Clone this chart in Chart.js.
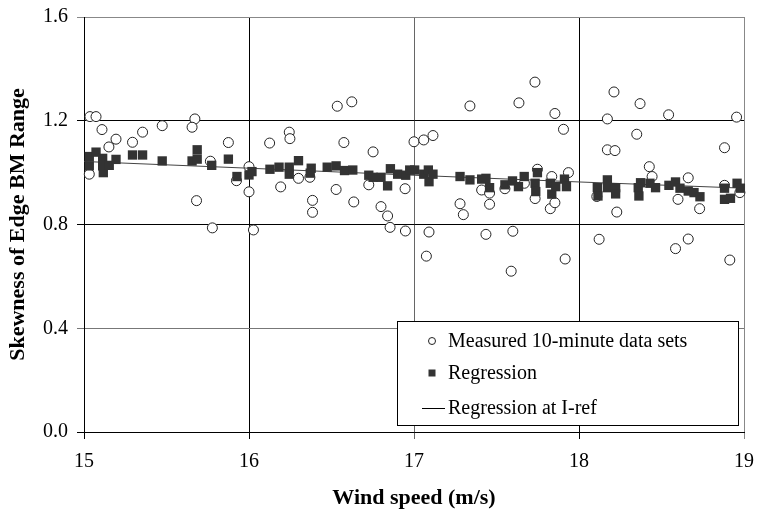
<!DOCTYPE html>
<html lang="en">
  <head>
    <meta charset="utf-8">
    <title>Skewness of Edge BM Range vs Wind speed</title>
    <style>
      html, body { margin: 0; padding: 0; background: #fff; }
      #wrapper { width: 757px; height: 510px; }
      canvas { display: block; }
    </style>
  </head>
  <body>
    <div id="wrapper">
      <canvas id="canvas" width="757" height="510"></canvas>
    </div>

    <script src="https://cdn.jsdelivr.net/npm/chart.js"></script>
    <script>
      // measured 10-minute data sets (open circles)
      let measuredX = [15.036, 15.073, 15.109, 15.194, 15.151, 15.294, 15.355, 15.474, 15.672, 15.655,
        15.875, 15.032, 15.682, 15.766, 15.924, 16.0, 16.0, 15.778, 16.027,
        16.125, 16.192, 16.244, 16.248, 16.30, 16.369, 16.385, 16.385, 16.535, 16.623,
        16.575, 16.528, 16.635, 16.752, 16.726, 16.80, 16.84, 16.855, 16.946, 16.948, 17.0,
        17.059, 17.115, 17.339, 17.636, 17.733, 17.854, 17.906, 17.091, 17.075, 17.279,
        17.299, 17.41, 17.458, 17.458, 17.436, 17.551, 17.589, 17.599, 17.669, 17.734,
        17.748, 17.826, 17.854, 17.835, 17.936, 17.916,
        18.212, 18.37, 18.543, 18.172, 18.955, 18.35, 18.172, 18.218, 18.882, 18.426,
        18.443, 18.662, 18.108, 18.229, 18.60, 18.731, 18.882, 18.975, 18.122, 18.662,
        18.585, 18.914];
      let measuredY = [1.216, 1.216, 1.166, 1.129, 1.099, 1.117, 1.156, 1.181, 1.207, 1.175,
        1.116, 0.994, 0.892, 1.044, 0.969, 1.023, 0.926, 0.787, 0.779,
        1.114, 0.945, 1.156, 1.131, 0.978, 0.982, 0.893, 0.847, 1.256, 1.273,
        1.116, 0.935, 0.887, 1.080, 0.953, 0.869, 0.833, 0.789, 0.938, 0.775, 1.119,
        1.126, 1.143, 1.257, 1.269, 1.349, 1.228, 1.167, 0.771, 0.678, 0.880,
        0.838, 0.933, 0.921, 0.878, 0.762, 0.938, 0.620, 0.774, 0.959, 0.900,
        1.013, 0.861, 0.884, 0.985, 1.000, 0.667,
        1.311, 1.266, 1.223, 1.207, 1.214, 1.148, 1.088, 1.085, 1.096, 1.023,
        0.985, 0.980, 0.908, 0.848, 0.897, 0.861, 0.951, 0.923, 0.743, 0.744,
        0.707, 0.663];

      // regression (filled squares)
      let regressionX = [15.032, 15.032, 15.073, 15.113, 15.113, 15.117, 15.153, 15.194, 15.294, 15.355,
        15.474, 15.655, 15.686, 15.686, 15.774, 15.875, 15.927, 16.0, 16.018,
        16.127, 16.182, 16.244, 16.244, 16.30, 16.377, 16.371, 16.474, 16.528, 16.579,
        16.629, 16.726, 16.752, 16.80, 16.84, 16.857, 16.901, 16.95, 16.974,
        17.004, 17.059, 17.087, 17.091, 17.115, 17.279, 17.339, 17.41, 17.436, 17.458,
        17.551, 17.597, 17.633, 17.668, 17.734, 17.738, 17.748, 17.826, 17.835, 17.859,
        17.912, 17.924,
        18.111, 18.115, 18.172, 18.172, 18.222, 18.222, 18.359, 18.363, 18.373, 18.43,
        18.464, 18.545, 18.585, 18.612, 18.662, 18.697, 18.733, 18.882, 18.882, 18.918,
        18.958, 18.978];
      let regressionY = [1.062, 1.026, 1.079, 1.055, 1.026, 1.000, 1.028, 1.051, 1.068, 1.068,
        1.045, 1.045, 1.088, 1.052, 1.028, 1.052, 0.985, 0.991, 1.004,
        1.013, 1.021, 1.021, 0.994, 1.046, 1.017, 0.998, 1.021, 1.026, 1.008,
        1.010, 0.990, 0.982, 0.982, 0.949, 1.015, 0.994, 0.990, 1.010,
        1.010, 0.994, 1.010, 0.965, 0.994, 0.985, 0.972, 0.975, 0.978, 0.942,
        0.953, 0.968, 0.946, 0.985, 0.959, 0.927, 1.000, 0.959, 0.917, 0.946,
        0.975, 0.946,
        0.942, 0.910, 0.972, 0.942, 0.942, 0.918, 0.942, 0.910, 0.961, 0.959,
        0.942, 0.951, 0.964, 0.940, 0.929, 0.923, 0.907, 0.940, 0.897, 0.901,
        0.959, 0.940];

      // regression at I-ref (thin line)
      let refX = [15, 16, 17, 18, 19];
      let refY = [1.043, 1.017, 0.990, 0.964, 0.940];

      let xTicks = [15, 16, 17, 18, 19];
      let yTicks = [0.0, 0.4, 0.8, 1.2, 1.6];

      let legendLabels = ['Measured 10-minute data sets', 'Regression', 'Regression at I-ref'];

      const serif = "'Liberation Serif', 'Times New Roman', serif";

      function pairs(xs, ys) {
        let out = [];
        for (let i = 0; i < xs.length; i++) out.push({x: xs[i], y: ys[i]});
        return out;
      }

      // grid shades picked to match the reference
      function xGridColor(ctx) {
        let v = ctx.tick ? ctx.tick.value : 0;
        if (v === 17) return '#666';
        if (v === 19) return '#888';
        return '#000';
      }
      function yGridColor(ctx) {
        let v = ctx.tick ? Math.round(ctx.tick.value * 10) / 10 : 0;
        if (v === 0.4) return '#777';
        if (v === 1.6) return '#888';
        return '#000';
      }

      // legend box drawn inside the plot area
      const boxLegend = {
        id: 'boxLegend',
        afterDraw(chart) {
          const ctx = chart.ctx;
          const a = chart.chartArea;
          const x0 = a.right - 347, y0 = a.bottom - 111, w = 341, h = 104;
          ctx.save();
          ctx.fillStyle = '#fff';
          ctx.fillRect(x0, y0, w, h);
          ctx.strokeStyle = '#000';
          ctx.lineWidth = 1;
          ctx.strokeRect(x0 + 0.5, y0 + 0.5, w, h);

          const mx = x0 + 35, tx = x0 + 51;
          const rows = [y0 + 20, y0 + 52, y0 + 87];

          ctx.beginPath();
          ctx.arc(mx, rows[0], 3.5, 0, Math.PI * 2);
          ctx.fillStyle = '#fff';
          ctx.fill();
          ctx.strokeStyle = '#222';
          ctx.stroke();

          ctx.fillStyle = '#333';
          ctx.fillRect(mx - 3.5, rows[1] - 3.5, 7, 7);

          ctx.beginPath();
          ctx.moveTo(mx - 10, rows[2] + 0.5);
          ctx.lineTo(mx + 13, rows[2] + 0.5);
          ctx.strokeStyle = '#000';
          ctx.stroke();

          ctx.fillStyle = '#000';
          ctx.font = '20px ' + serif;
          ctx.textBaseline = 'middle';
          ctx.textAlign = 'left';
          for (let i = 0; i < legendLabels.length; i++) {
            ctx.fillText(legendLabels[i], tx, rows[i] + 1);
          }
          ctx.restore();
        }
      };

      let options = {
        type: 'scatter',
        data: {
          datasets: [{
            label: legendLabels[1],
            data: pairs(regressionX, regressionY),
            pointStyle: 'rect',
            pointRadius: 6.6,
            backgroundColor: '#333',
            borderColor: '#333',
            borderWidth: 0,
            clip: false,
            order: 0
          }, {
            type: 'line',
            label: legendLabels[2],
            data: pairs(refX, refY),
            borderColor: '#444',
            borderWidth: 1,
            pointRadius: 0,
            fill: false,
            tension: 0,
            order: 1
          }, {
            label: legendLabels[0],
            data: pairs(measuredX, measuredY),
            pointStyle: 'circle',
            pointRadius: 5,
            backgroundColor: '#fff',
            borderColor: '#222',
            borderWidth: 1,
            clip: false,
            order: 2
          }]
        },
        options: {
          responsive: false,
          animation: false,
          layout: { padding: { top: 17, right: 13, left: 0, bottom: 0 } },
          plugins: {
            legend: { display: false },
            tooltip: { enabled: false }
          },
          scales: {
            x: {
              type: 'linear',
              min: 15,
              max: 19,
              afterFit: s => {
                s.height = 78;
                s.paddingLeft = 0;
                s.paddingRight = 0;
              },
              afterBuildTicks: s => { s.ticks = xTicks.map(v => ({value: v})); },
              ticks: {
                padding: 11,
                color: '#000',
                font: { family: serif, size: 20 },
                callback: v => String(v)
              },
              grid: { color: xGridColor, lineWidth: 1, tickLength: 7 },
              border: { display: true, color: '#000', width: 1 },
              title: {
                display: true,
                text: 'Wind speed (m/s)',
                color: '#000',
                font: { family: serif, size: 22, weight: 'bold', lineHeight: 1 },
                padding: { top: 0, bottom: 1 }
              }
            },
            y: {
              type: 'linear',
              min: 0,
              max: 1.6,
              afterFit: s => {
                s.width = 84;
                s.paddingTop = 0;
                s.paddingBottom = 0;
              },
              afterBuildTicks: s => { s.ticks = yTicks.map(v => ({value: v})); },
              ticks: {
                padding: 9,
                color: '#000',
                font: { family: serif, size: 20 },
                callback: v => Number(v).toFixed(1)
              },
              grid: { color: yGridColor, lineWidth: 1, tickLength: 7 },
              border: { display: true, color: '#000', width: 1 },
              title: {
                display: true,
                text: 'Skewness of Edge BM Range',
                color: '#000',
                font: { family: serif, size: 22, weight: 'bold', lineHeight: 1 },
                padding: { top: 7, bottom: 0 }
              }
            }
          }
        },
        plugins: [boxLegend]
      };

      let chart = new Chart(document.getElementById('canvas'), options);
    </script>
  </body>
</html>
